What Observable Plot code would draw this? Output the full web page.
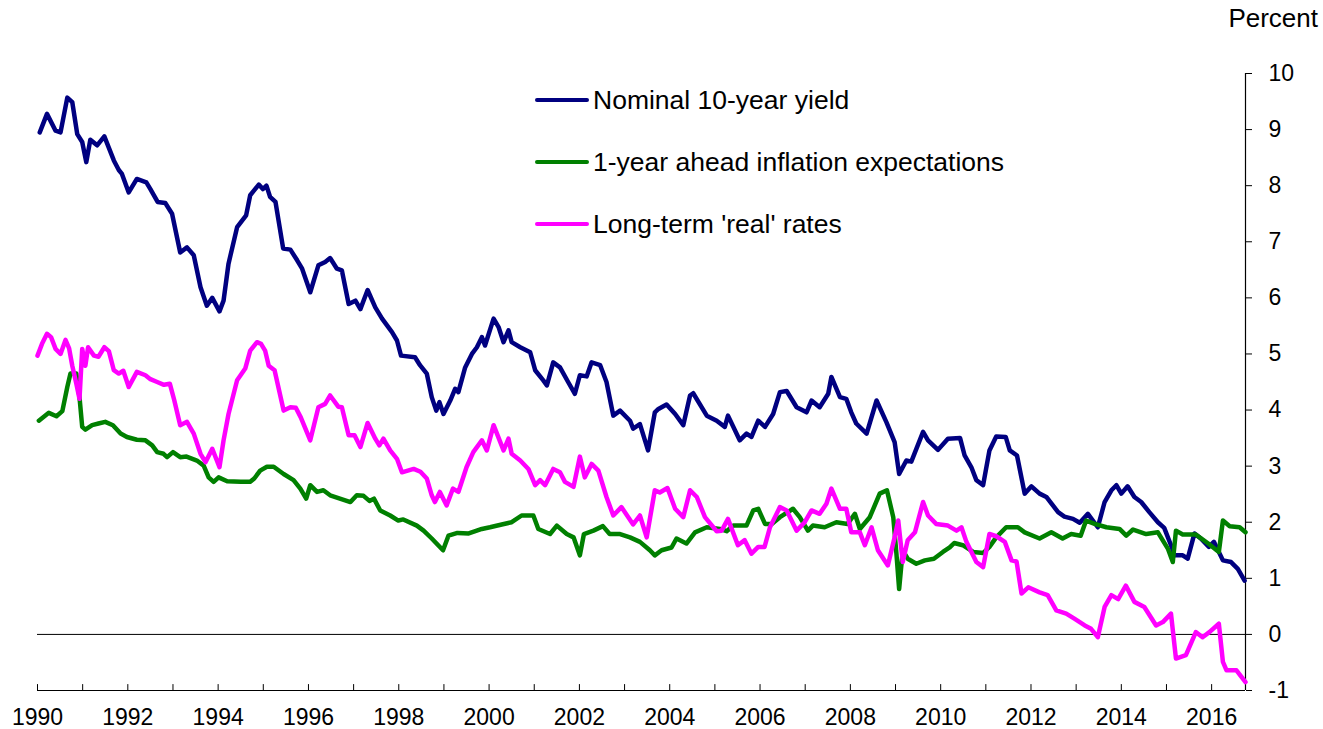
<!DOCTYPE html>
<html>
<head>
<meta charset="utf-8">
<script src="https://cdn.jsdelivr.net/npm/d3@7"></script>
<script src="https://cdn.jsdelivr.net/npm/@observablehq/plot@0.6"></script>
<style>
  html, body { margin: 0; padding: 0; background: #fff; }
  #wrap { position: relative; width: 1323px; height: 729px; font-family: "Liberation Sans", Arial, sans-serif; color: #000; }
  #percent { position: absolute; right: 5px; top: 3px; font-size: 26px; }
  .leg { position: absolute; left: 535px; display: flex; align-items: center; font-size: 26.5px; white-space: nowrap; }
  .leg .sw { width: 54px; height: 4px; border-radius: 2px; margin-right: 4px; }
</style>
</head>
<body>
<div id="wrap">
  <div id="percent">Percent</div>
  <div id="legend"></div>
</div>
<script>
// ---- Data (decimal year, percent) ----
const seriesNames = ["Nominal 10-year yield", "1-year ahead inflation expectations", "Long-term 'real' rates"];
const seriesColors = ["#000080", "#008000", "#FF00FF"];

const nominalYield = [
  [1990.05,8.95],[1990.21,9.28],[1990.4,8.98],[1990.51,8.95],[1990.66,9.57],[1990.77,9.49],[1990.88,8.92],[1990.99,8.78],
  [1991.08,8.42],[1991.17,8.82],[1991.32,8.72],[1991.48,8.88],[1991.69,8.45],[1991.8,8.28],[1991.87,8.21],[1992.02,7.88],
  [1992.2,8.12],[1992.41,8.06],[1992.5,7.94],[1992.66,7.71],[1992.83,7.69],[1992.98,7.5],[1993.16,6.81],[1993.31,6.9],
  [1993.46,6.76],[1993.61,6.19],[1993.75,5.86],[1993.87,6.0],[1994.03,5.76],[1994.12,5.95],[1994.23,6.61],[1994.42,7.26],
  [1994.62,7.47],[1994.71,7.83],[1994.9,8.02],[1994.99,7.94],[1995.07,8.0],[1995.15,7.8],[1995.27,7.71],[1995.44,6.88],
  [1995.6,6.86],[1995.75,6.67],[1995.86,6.52],[1996.04,6.1],[1996.22,6.58],[1996.37,6.64],[1996.48,6.71],[1996.63,6.52],
  [1996.74,6.49],[1996.89,5.89],[1997.04,5.95],[1997.15,5.8],[1997.31,6.14],[1997.48,5.83],[1997.63,5.63],[1997.85,5.39],
  [1997.96,5.24],[1998.05,4.97],[1998.36,4.94],[1998.47,4.8],[1998.62,4.65],[1998.73,4.23],[1998.83,3.99],[1998.9,4.14],
  [1998.99,3.93],[1999.14,4.17],[1999.25,4.38],[1999.32,4.32],[1999.47,4.76],[1999.62,5.0],[1999.73,5.12],[1999.84,5.3],
  [1999.91,5.15],[2000.1,5.63],[2000.21,5.48],[2000.32,5.21],[2000.43,5.42],[2000.5,5.21],[2000.69,5.12],[2000.91,5.03],
  [2001.02,4.71],[2001.2,4.53],[2001.28,4.44],[2001.42,4.85],[2001.57,4.76],[2001.75,4.5],[2001.9,4.29],[2002.01,4.62],
  [2002.16,4.6],[2002.27,4.85],[2002.46,4.8],[2002.6,4.5],[2002.75,3.9],[2002.9,3.99],[2003.12,3.81],[2003.19,3.67],
  [2003.34,3.75],[2003.52,3.28],[2003.67,3.96],[2003.75,4.02],[2003.93,4.1],[2004.12,3.93],[2004.3,3.73],[2004.45,4.26],
  [2004.52,4.3],[2004.82,3.9],[2005.04,3.81],[2005.22,3.7],[2005.29,3.9],[2005.55,3.46],[2005.7,3.58],[2005.81,3.52],
  [2005.96,3.81],[2006.11,3.7],[2006.29,3.93],[2006.44,4.32],[2006.59,4.34],[2006.81,4.05],[2007.03,3.96],[2007.14,4.17],
  [2007.32,4.05],[2007.51,4.29],[2007.58,4.59],[2007.77,4.23],[2007.91,4.2],[2008.02,3.96],[2008.13,3.76],[2008.36,3.58],
  [2008.58,4.17],[2008.8,3.78],[2008.98,3.43],[2009.08,2.86],[2009.24,3.1],[2009.35,3.08],[2009.61,3.61],[2009.72,3.46],
  [2009.94,3.29],[2010.16,3.49],[2010.43,3.5],[2010.53,3.19],[2010.68,2.98],[2010.79,2.75],[2010.94,2.66],[2011.08,3.28],
  [2011.23,3.53],[2011.44,3.52],[2011.53,3.28],[2011.69,3.19],[2011.86,2.51],[2012.01,2.64],[2012.19,2.51],[2012.34,2.45],
  [2012.6,2.18],[2012.74,2.1],[2012.93,2.06],[2013.08,1.99],[2013.26,2.15],[2013.48,1.91],[2013.63,2.36],[2013.78,2.57],
  [2013.89,2.66],[2014.0,2.51],[2014.14,2.64],[2014.29,2.45],[2014.44,2.36],[2014.62,2.18],[2014.81,2.0],[2014.95,1.9],
  [2015.1,1.59],[2015.18,1.41],[2015.36,1.41],[2015.47,1.35],[2015.62,1.8],[2015.76,1.71],[2015.94,1.56],[2016.05,1.65],
  [2016.25,1.32],[2016.43,1.29],[2016.58,1.17],[2016.73,0.96]
];

const inflationExpectations = [
  [1990.03,3.81],[1990.25,3.95],[1990.42,3.89],[1990.55,3.98],[1990.66,4.41],[1990.73,4.65],[1990.86,4.65],[1990.93,4.23],
  [1990.99,3.7],[1991.06,3.65],[1991.21,3.73],[1991.35,3.76],[1991.5,3.79],[1991.67,3.73],[1991.84,3.58],[1991.98,3.52],
  [1992.2,3.47],[1992.39,3.46],[1992.54,3.37],[1992.65,3.25],[1992.79,3.22],[1992.87,3.16],[1993.0,3.25],[1993.16,3.16],
  [1993.3,3.17],[1993.53,3.1],[1993.68,3.01],[1993.79,2.8],[1993.9,2.72],[1994.01,2.8],[1994.2,2.73],[1994.5,2.72],
  [1994.71,2.72],[1994.8,2.78],[1994.93,2.92],[1995.08,2.99],[1995.23,2.99],[1995.45,2.86],[1995.67,2.75],[1995.82,2.6],
  [1995.95,2.42],[1996.04,2.66],[1996.19,2.54],[1996.33,2.57],[1996.48,2.48],[1996.93,2.36],[1997.07,2.48],[1997.22,2.47],
  [1997.35,2.38],[1997.45,2.42],[1997.59,2.21],[1997.81,2.12],[1997.99,2.03],[1998.1,2.05],[1998.4,1.94],[1998.55,1.85],
  [1998.73,1.71],[1998.98,1.5],[1999.1,1.76],[1999.3,1.81],[1999.55,1.8],[1999.84,1.88],[2000.02,1.91],[2000.28,1.96],
  [2000.5,2.0],[2000.72,2.12],[2000.98,2.12],[2001.09,1.88],[2001.35,1.79],[2001.5,1.94],[2001.72,1.79],[2001.87,1.73],
  [2002.01,1.41],[2002.1,1.79],[2002.31,1.85],[2002.52,1.93],[2002.67,1.79],[2002.9,1.79],[2003.12,1.73],[2003.34,1.65],
  [2003.56,1.5],[2003.67,1.41],[2003.82,1.5],[2004.04,1.55],[2004.15,1.71],[2004.37,1.62],[2004.56,1.82],[2004.82,1.91],
  [2005.11,1.88],[2005.26,1.84],[2005.41,1.94],[2005.7,1.94],[2005.85,2.21],[2005.96,2.24],[2006.11,1.97],[2006.26,1.97],
  [2006.44,2.09],[2006.73,2.24],[2006.88,2.09],[2007.06,1.85],[2007.17,1.94],[2007.43,1.91],[2007.69,2.0],[2007.94,1.97],
  [2008.1,2.15],[2008.21,1.88],[2008.43,2.09],[2008.65,2.51],[2008.81,2.57],[2008.95,2.09],[2009.02,1.44],[2009.08,0.81],
  [2009.16,1.5],[2009.27,1.35],[2009.46,1.26],[2009.65,1.32],[2009.85,1.35],[2010.05,1.47],[2010.2,1.55],[2010.3,1.63],
  [2010.49,1.59],[2010.72,1.47],[2010.94,1.45],[2011.08,1.56],[2011.23,1.73],[2011.45,1.91],[2011.71,1.91],[2011.86,1.82],
  [2012.19,1.71],[2012.45,1.82],[2012.7,1.71],[2012.89,1.79],[2013.1,1.76],[2013.22,2.03],[2013.41,1.97],[2013.67,1.91],
  [2013.96,1.88],[2014.11,1.76],[2014.26,1.87],[2014.55,1.79],[2014.81,1.82],[2015.03,1.53],[2015.14,1.29],[2015.21,1.85],
  [2015.36,1.78],[2015.65,1.78],[2015.91,1.63],[2016.16,1.47],[2016.25,2.03],[2016.4,1.93],[2016.62,1.91],[2016.75,1.82]
];

const realRates = [
  [1990.0,4.97],[1990.1,5.18],[1990.21,5.36],[1990.3,5.3],[1990.4,5.09],[1990.51,5.0],[1990.62,5.25],[1990.7,5.1],
  [1990.77,4.79],[1990.86,4.47],[1990.93,4.2],[1990.99,5.09],[1991.06,4.79],[1991.12,5.12],[1991.25,4.97],[1991.35,4.95],
  [1991.48,5.12],[1991.58,5.05],[1991.69,4.71],[1991.8,4.65],[1991.9,4.7],[1992.02,4.41],[1992.2,4.68],[1992.39,4.62],
  [1992.5,4.55],[1992.65,4.5],[1992.8,4.45],[1992.93,4.47],[1993.03,4.17],[1993.16,3.73],[1993.31,3.79],[1993.46,3.58],
  [1993.61,3.22],[1993.72,3.07],[1993.87,3.31],[1994.03,2.98],[1994.12,3.46],[1994.23,3.93],[1994.42,4.53],[1994.6,4.74],
  [1994.71,5.06],[1994.86,5.21],[1994.95,5.18],[1995.04,5.06],[1995.12,4.79],[1995.25,4.71],[1995.45,3.99],[1995.6,4.05],
  [1995.72,4.04],[1995.83,3.87],[1996.04,3.46],[1996.22,4.05],[1996.37,4.11],[1996.48,4.26],[1996.66,4.06],[1996.74,4.05],
  [1996.89,3.55],[1997.02,3.55],[1997.15,3.34],[1997.31,3.77],[1997.48,3.49],[1997.57,3.37],[1997.66,3.49],[1997.81,3.28],
  [1997.96,3.13],[1998.07,2.89],[1998.2,2.92],[1998.33,2.95],[1998.48,2.9],[1998.62,2.78],[1998.73,2.48],[1998.8,2.36],
  [1998.91,2.54],[1999.06,2.3],[1999.2,2.6],[1999.32,2.54],[1999.5,2.98],[1999.65,3.25],[1999.84,3.46],[1999.95,3.28],
  [2000.1,3.73],[2000.32,3.28],[2000.43,3.49],[2000.5,3.22],[2000.69,3.1],[2000.87,2.95],[2001.02,2.66],[2001.13,2.75],
  [2001.24,2.66],[2001.42,2.95],[2001.57,2.89],[2001.68,2.72],[2001.87,2.63],[2002.01,3.17],[2002.12,2.8],[2002.27,3.04],
  [2002.42,2.92],[2002.6,2.45],[2002.75,2.12],[2002.93,2.27],[2003.19,1.96],[2003.34,2.12],[2003.49,1.73],[2003.67,2.57],
  [2003.78,2.53],[2003.95,2.61],[2004.12,2.24],[2004.3,2.09],[2004.45,2.57],[2004.6,2.45],[2004.78,2.09],[2005.04,1.84],
  [2005.15,1.85],[2005.29,2.06],[2005.51,1.59],[2005.66,1.68],[2005.81,1.44],[2005.96,1.56],[2006.1,1.56],[2006.22,1.91],
  [2006.44,2.27],[2006.59,2.21],[2006.81,1.85],[2006.99,2.0],[2007.14,2.21],[2007.32,2.15],[2007.47,2.33],[2007.58,2.6],
  [2007.77,2.24],[2007.91,2.24],[2008.02,1.82],[2008.21,1.82],[2008.32,1.59],[2008.47,1.91],[2008.61,1.5],[2008.83,1.23],
  [2008.98,1.73],[2009.06,2.03],[2009.16,1.29],[2009.27,1.68],[2009.43,1.82],[2009.61,2.36],[2009.72,2.12],[2009.9,1.97],
  [2010.16,1.94],[2010.35,1.85],[2010.46,1.91],[2010.57,1.65],[2010.79,1.29],[2010.94,1.2],[2011.08,1.79],[2011.23,1.75],
  [2011.42,1.65],[2011.57,1.32],[2011.68,1.3],[2011.79,0.73],[2011.94,0.84],[2012.19,0.75],[2012.37,0.7],[2012.56,0.43],
  [2012.78,0.37],[2012.96,0.28],[2013.19,0.16],[2013.33,0.1],[2013.48,-0.05],[2013.63,0.49],[2013.78,0.7],[2013.93,0.63],
  [2014.1,0.87],[2014.29,0.58],[2014.51,0.49],[2014.77,0.16],[2014.92,0.22],[2015.1,0.37],[2015.21,-0.43],[2015.43,-0.37],
  [2015.65,0.04],[2015.8,-0.05],[2015.95,0.04],[2016.16,0.19],[2016.25,-0.49],[2016.33,-0.64],[2016.55,-0.64],[2016.75,-0.85]
];

const xDomain = [1990, 2016.75];
const yTicks = [-1, 0, 1, 2, 3, 4, 5, 6, 7, 8, 9, 10];
const xLabelYears = [1990, 1992, 1994, 1996, 1998, 2000, 2002, 2004, 2006, 2008, 2010, 2012, 2014, 2016];
const xTickYears = d3.range(1990, 2017);

// ---- Build table ----
const seriesData = [nominalYield, inflationExpectations, realRates];
const table = seriesData.flatMap((arr, i) => arr.map(([t, v]) => ({series: seriesNames[i], t, v})));

const tickShape = {draw(context, l) { context.moveTo(0, 0); context.lineTo(0, -l); }};

const chart = Plot.plot({
  width: 1323,
  height: 729,
  marginLeft: 37,
  marginRight: 78,
  marginTop: 73,
  marginBottom: 39,
  style: {fontFamily: "'Liberation Sans', Arial, sans-serif", fontSize: "23px", color: "#000", background: "transparent", overflow: "visible"},
  x: {domain: xDomain},
  y: {domain: [yTicks[0], yTicks[yTicks.length - 1]]},
  color: {domain: seriesNames, range: seriesColors},
  marks: [
    Plot.ruleY([0], {stroke: "#000", strokeWidth: 1}),
    Plot.ruleY([yTicks[0]], {stroke: "#000", strokeWidth: 1.2}),
    Plot.ruleX([xDomain[1]], {stroke: "#000", strokeWidth: 1.2}),
    Plot.vectorX(xTickYears, {x: d => d, frameAnchor: "bottom", anchor: "start", length: 6, rotate: 0, shape: tickShape, stroke: "#000", strokeWidth: 1}),
    Plot.axisX({ticks: xLabelYears, tickSize: 0, tickPadding: 18, tickFormat: d => String(d), label: null, fontSize: 23}),
    Plot.axisY({anchor: "right", ticks: yTicks, tickSize: 6, tickPadding: 17, tickFormat: d => String(d), label: null, fontSize: 23}),
    Plot.line(table, {x: "t", y: "v", z: "series", stroke: "series", strokeWidth: 4.5, strokeLinejoin: "round", strokeLinecap: "round"})
  ]
});
chart.style.position = "absolute";
chart.style.left = "0";
chart.style.top = "0";
document.getElementById("wrap").prepend(chart);

// ---- Legend ----
const legend = document.getElementById("legend");
const legendTops = [100, 162, 224];
seriesNames.forEach((name, i) => {
  const row = document.createElement("div");
  row.className = "leg";
  row.style.top = (legendTops[i] - 16) + "px";
  row.style.height = "32px";
  const sw = document.createElement("span");
  sw.className = "sw";
  sw.style.background = seriesColors[i];
  const tx = document.createElement("span");
  tx.textContent = name;
  row.appendChild(sw);
  row.appendChild(tx);
  legend.appendChild(row);
});
</script>
</body>
</html>
